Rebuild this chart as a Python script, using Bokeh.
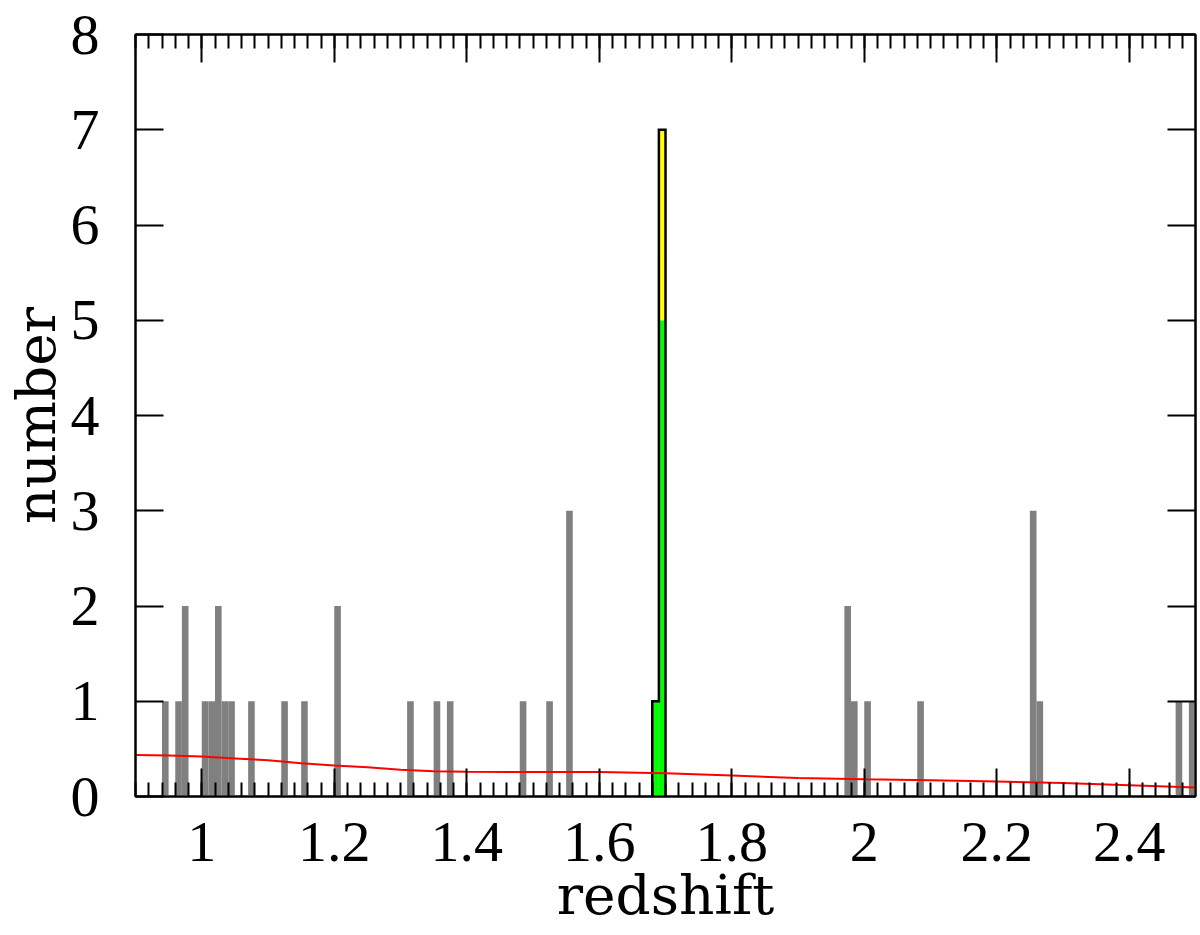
import numpy as np
from bokeh.plotting import figure
from bokeh.models import (Range1d, LinearAxis, SingleIntervalTicker,
                          CustomJSTickFormatter)
from bokeh.embed import file_html
from bokeh.resources import INLINE

# ---------------- data ----------------
x_range = (0.9, 2.5)
y_range = (0, 8)
bin_width = 0.01

gray_left = [0.94, 0.96, 0.97, 1.00, 1.01, 1.02, 1.03, 1.04, 1.07, 1.12, 1.15,
             1.20, 1.31, 1.35, 1.37, 1.48, 1.52, 1.55, 1.97, 1.98, 2.00, 2.08,
             2.25, 2.26, 2.47, 2.49]
gray_count = [1, 1, 2, 1, 1, 2, 1, 1, 1, 1, 1,
              2, 1, 1, 1, 1, 1, 3, 2, 1, 1, 1,
              3, 1, 1, 1]

feat_left = [1.68, 1.69]
feat_green = [1, 5]
feat_yellow = [0, 2]

model_z = [0.90, 0.95, 1.00, 1.05, 1.10, 1.15, 1.20, 1.25, 1.30, 1.35, 1.40,
           1.50, 1.60, 1.70, 1.80, 1.90, 2.00, 2.10, 2.20, 2.30, 2.40, 2.50]
model_n = [0.437, 0.43, 0.42, 0.40, 0.38, 0.35, 0.326, 0.306, 0.282, 0.266, 0.259,
           0.256, 0.256, 0.243, 0.22, 0.195, 0.18, 0.171, 0.158, 0.141, 0.118, 0.095]

x_tick_interval = 0.2
x_minor_per_major = 10
y_tick_interval = 1

# ---------------- figure ----------------
p = figure(frame_width=1060, frame_height=762,
           x_range=Range1d(*x_range), y_range=Range1d(*y_range),
           output_backend="svg", toolbar_location=None,
           x_axis_location=None, y_axis_location=None,
           min_border_left=129, min_border_right=2,
           min_border_top=34, min_border_bottom=123)
p.background_fill_color = "white"
p.border_fill_color = "white"
p.outline_line_color = "black"
p.outline_line_width = 2
p.xgrid.visible = False
p.ygrid.visible = False

tick_fmt = CustomJSTickFormatter(code="return String(Math.round(tick*10)/10);")


def style_common(ax):
    ax.axis_line_color = "black"
    ax.axis_line_width = 2
    ax.major_tick_in = 28
    ax.major_tick_out = 0
    ax.major_tick_line_width = 2
    ax.major_tick_line_color = "black"


def hide_labels(ax):
    ax.major_label_text_font_size = "1px"
    ax.major_label_text_color = None
    ax.major_label_standoff = 0


def make_x_axis(show_labels):
    ax = LinearAxis(ticker=SingleIntervalTicker(interval=x_tick_interval,
                                                num_minor_ticks=x_minor_per_major),
                    formatter=tick_fmt)
    style_common(ax)
    ax.minor_tick_in = 14
    ax.minor_tick_out = 0
    ax.minor_tick_line_width = 2
    ax.minor_tick_line_color = "black"
    if show_labels:
        ax.major_label_text_font = "Liberation Serif"
        ax.major_label_text_font_size = "58px"
        ax.major_label_text_color = "black"
        ax.major_label_standoff = 26
        ax.axis_label = "redshift"
        ax.axis_label_text_font = "DejaVu Serif"
        ax.axis_label_text_font_size = "55px"
        ax.axis_label_text_font_style = "normal"
        ax.axis_label_text_color = "black"
        ax.axis_label_standoff = -1
    else:
        hide_labels(ax)
    return ax


def make_y_axis(show_labels):
    ax = LinearAxis(ticker=SingleIntervalTicker(interval=y_tick_interval,
                                                num_minor_ticks=0),
                    formatter=tick_fmt)
    style_common(ax)
    ax.minor_tick_line_color = None
    if show_labels:
        ax.major_label_text_font = "Liberation Serif"
        ax.major_label_text_font_size = "58px"
        ax.major_label_text_color = "black"
        ax.major_label_standoff = 36
        ax.axis_label = "number"
        ax.axis_label_text_font = "DejaVu Serif"
        ax.axis_label_text_font_size = "55px"
        ax.axis_label_text_font_style = "normal"
        ax.axis_label_text_color = "black"
        ax.axis_label_standoff = 0
    else:
        hide_labels(ax)
    return ax


p.add_layout(make_x_axis(True), "below")
p.add_layout(make_x_axis(False), "above")
p.add_layout(make_y_axis(True), "left")
p.add_layout(make_y_axis(False), "right")

# gray histogram
gl = np.array(gray_left)
p.vbar(x=gl + bin_width / 2, top=gray_count, bottom=0, width=bin_width,
       fill_color="#808080", line_color=None)

# feature histogram (green + yellow stacked)
fl = np.array(feat_left)
fg = np.array(feat_green)
fy = np.array(feat_yellow)
p.vbar(x=fl + bin_width / 2, top=fg, bottom=0, width=bin_width,
       fill_color="#00ff00", line_color=None)
p.vbar(x=fl + bin_width / 2, top=fg + fy, bottom=fg, width=bin_width,
       fill_color="#ffff00", line_color=None)

# black step outline of the feature histogram
tot = fg + fy
edges = np.append(fl, fl[-1] + bin_width)
ox = np.repeat(edges, 2)
oy = np.concatenate([[0], np.repeat(tot, 2), [0]])
p.line(ox, oy, line_color="black", line_width=2.5, line_join="miter")

# model curve
p.line(model_z, model_n, line_color="red", line_width=2)

html = file_html(p, INLINE)
open("out.html", "w").write(html)
